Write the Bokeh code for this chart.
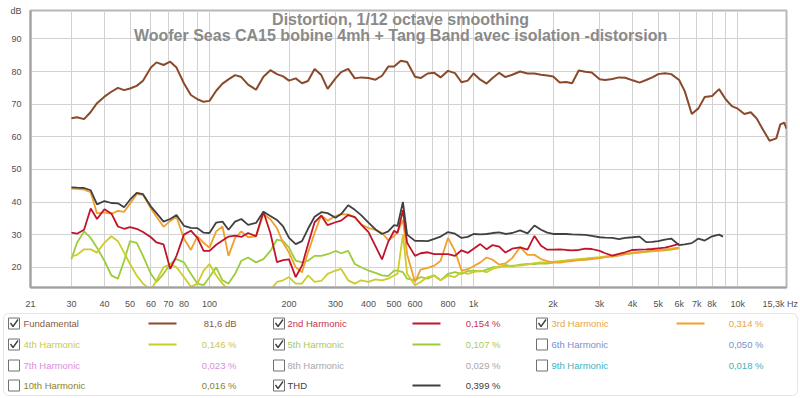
from bokeh.plotting import figure
from bokeh.models import FixedTicker, Label, BoxAnnotation, Range1d
from bokeh.layouts import column, row
from bokeh.embed import file_html
from bokeh.resources import INLINE
from bokeh.core.properties import value

# ---------------- data ----------------
freq_fund = [30, 31.5, 33.5, 35.5, 37.5, 40, 42.5, 45, 47.5, 50,
             53, 56, 60, 63, 67, 71, 75, 80, 85, 90, 95,
             100, 106, 112, 118, 125, 132, 140, 150, 160, 170, 180, 190,
             200, 212, 224, 236, 250, 265, 280, 300, 315, 335, 355, 375,
             400, 425, 450, 475, 500, 530, 560, 600, 630, 670, 710, 750, 800, 850, 900, 950,
             1000, 1060, 1120, 1180, 1250, 1320, 1400, 1500, 1600, 1700, 1800, 1900,
             2000, 2120, 2240, 2360, 2500, 2650, 2800, 3000, 3150, 3350, 3550, 3750,
             4000, 4250, 4500, 4750, 5000, 5300, 5600, 6000, 6300, 6700, 7100, 7500,
             8000, 8500, 9000, 9500,
             10000, 10600, 11200, 11800, 12500, 13200, 14000, 14500, 15000, 15300]
fundamental = [65.7, 66.0, 65.4, 67.6, 70.3, 72.3, 73.8, 75.0, 74.3, 74.8,
               75.6, 77.2, 81.2, 82.8, 82.0, 83.0, 81.2, 76.4, 72.8, 71.5, 70.7,
               71.0, 74.1, 76.3, 77.6, 78.9, 78.3, 76.0, 74.4, 78.4, 80.4, 79.2, 78.5,
               77.2, 77.9, 76.4, 77.1, 80.8, 78.9, 74.7, 77.9, 79.8, 80.8, 77.9, 78.2,
               78.0, 77.5, 78.7, 81.5, 81.5, 83.3, 82.9, 78.4, 78.0, 79.4, 79.6, 78.2, 80.2, 79.5, 76.7, 77.2,
               79.4, 77.5, 76.3, 78.0, 79.6, 78.3, 79.0, 80.0, 79.4, 79.4, 79.0, 78.8,
               78.5, 76.6, 76.8, 76.4, 80.3, 79.9, 79.7, 77.6, 77.4, 77.7, 78.2, 78.1,
               77.3, 76.6, 77.4, 78.2, 79.2, 79.5, 79.2, 77.4, 74.0, 67.0, 68.7, 72.2,
               72.5, 74.6, 71.5, 69.4,
               68.6, 67.0, 67.5, 65.6, 62.0, 58.8, 59.5, 63.8, 64.3, 62.5]

freq_h = [30, 31.5, 33.5, 35.5, 37.5, 40, 42.5, 45, 47.5, 50,
          53, 56, 60, 63, 67, 71, 75, 80, 85, 90, 95,
          100, 106, 112, 118, 125, 132, 140, 150, 160, 170, 180, 190,
          200, 212, 224, 236, 250, 265, 280, 300, 315, 335, 355, 375,
          400, 425, 450, 475, 500,
          515, 540, 560,
          600, 630, 670, 710, 750, 800, 850, 900, 950,
          1000, 1060, 1120, 1180, 1250, 1320, 1400, 1500, 1600, 1700, 1800, 1900,
          2000, 2120, 2240, 2360, 2500, 2650, 2800, 3000, 3150, 3350, 3550, 3750,
          4000, 4250, 4500, 4750, 5000, 5300, 5600, 6000]
freq_thd_ext = [6300, 6700, 7100, 7500, 8000, 8500, 8800]

h2 = [30.6, 30.3, 31.5, 38.0, 34.8, 37.8, 36.5, 32.5, 31.8, 32.3,
      31.8, 30.8, 29.2, 27.6, 27.0, 19.5, 23.5, 30.0, 31.2, 29.0, 25.0,
      25.0, 26.9, 28.2, 29.4, 29.7, 29.3, 30.5, 29.5, 37.0, 30.5, 21.6, 22.2,
      22.4, 17.0, 20.5, 27.0, 33.8, 35.8, 32.9, 33.8, 34.3, 36.0, 35.4, 33.1,
      30.8, 26.5, 22.4, 27.8, 31.2,
      30.5, 37.5, 27.5,
      23.5, 24.3, 24.6, 24.0, 24.0, 24.0, 23.5, 25.2, 24.4,
      25.7, 27.1, 25.5, 26.8, 26.3, 24.5, 25.7, 26.1, 25.4, 29.6, 26.6, 25.4,
      25.4, 25.5, 25.3, 25.2, 25.3, 25.7, 25.6, 25.0, 24.3, 23.6, 24.1, 24.6,
      25.3, 25.4, 25.5, 25.6, 25.8, 26.0, 26.5, 27.2]

h3 = [44.1, 44.0, 43.8, 43.0, 36.5, 36.8, 36.4, 37.3, 37.0, 39.5,
      42.4, 42.2, 38.0, 35.5, 32.4, 34.2, 35.5, 28.8, 25.3, 29.5, 27.5,
      26.0, 31.0, 32.5, 23.5, 29.0, 31.0, 29.2, 29.5, 36.3, 34.7, 32.0, 27.5,
      24.5, 20.0, 18.5, 24.5, 30.5, 36.0, 34.3, 35.7, 36.3, 36.2, 35.3, 33.2,
      32.0, 31.5, 30.5, 28.3, 29.5,
      30.8, 34.5, 24.0,
      15.5, 19.3, 19.8, 20.5, 22.0, 29.0, 25.0, 19.0, 19.4,
      20.3, 21.5, 23.0, 22.3, 20.8, 21.2, 22.8, 26.2, 23.8, 23.8, 22.5, 21.9,
      21.5, 21.4, 21.7, 21.9, 22.2, 22.3, 22.5, 22.8, 23.1, 23.3, 23.6, 24.0,
      24.4, 24.7, 24.9, 25.1, 25.2, 25.4, 25.6, 26.0]

h4 = [23.3, 23.8, 25.5, 25.5, 24.5, 27.5, 29.5, 28.0, 24.5, 21.0,
      17.5, 15.0, 13.0, 16.0, 20.0, 21.0, 20.0, 17.0, 14.0, 15.0, 19.0,
      21.0, 17.5, 15.0, 13.0, 13.0, 13.0, 13.0, 13.0, 13.0, 13.0, 15.5, 16.0,
      17.0, 15.0, 15.0, 17.5, 15.5, 15.8, 18.0, 19.0, 19.5, 16.0, 15.0, 16.0,
      15.5, 16.3, 16.0, 16.5, 17.5,
      18.0, 30.0, 18.0,
      14.5, 15.5, 17.0, 17.5, 16.0, 17.5, 17.0, 18.5, 18.0,
      18.5, 19.0, 18.5, 19.5, 20.2, 20.3, 20.5, 20.5, 20.8, 21.3, 21.5, 21.6,
      21.7, 21.9, 22.1, 22.3, 22.5, 22.7, 22.9, 23.1, 23.3, 23.5, 23.8, 24.1,
      24.4, 24.6, 24.8, 25.0, 25.2, 25.4, 25.6, 26.0]

h5 = [22.5, 27.5, 31.0, 29.0, 26.0, 22.0, 17.5, 16.5, 22.0, 28.0,
      27.5, 23.5, 18.0, 15.5, 18.0, 21.0, 22.5, 21.5, 18.0, 15.0, 14.5,
      17.0, 20.0, 16.0, 15.0, 18.0, 22.0, 23.0, 21.5, 22.5, 25.0, 28.5, 28.0,
      26.0, 22.0, 21.5, 22.0, 23.5, 23.5, 24.0, 25.0, 24.3, 25.0, 21.0, 20.0,
      19.0, 18.3, 17.5, 17.3, 19.0,
      19.0, 18.5, 16.5,
      16.0, 17.0, 16.5, 17.5, 16.0, 18.0, 18.5, 18.0, 18.8,
      19.0, 18.7, 19.3, 20.0, 20.0, 20.7, 20.3, 20.8, 21.0, 21.0, 21.2, 21.1,
      21.4, 21.8, 22.0, 22.2, 22.3, 22.5, 22.7, 22.9, 23.2, 23.5, 23.7, 24.0,
      24.3, 24.5, 24.7, 24.9, 25.0, 25.2, 25.4, 25.8]

thd = [44.5, 44.4, 44.3, 43.6, 39.3, 40.3, 39.7, 39.6, 38.4, 40.7,
       42.8, 42.4, 38.6, 36.6, 34.0, 34.8, 36.0, 32.7, 32.1, 32.0, 30.6,
       30.5, 33.7, 34.0, 31.5, 34.0, 34.8, 33.0, 33.6, 37.0, 35.7, 34.5, 32.5,
       29.0, 27.1, 28.0, 31.8, 35.5, 36.9, 36.6, 35.2, 36.3, 39.0, 37.6, 36.0,
       33.7, 31.6, 30.2, 31.0, 32.9,
       32.7, 40.0, 30.0,
       28.1, 28.1, 28.0, 28.7, 29.4, 30.8, 30.3, 29.0, 29.3,
       30.2, 30.1, 30.2, 30.5, 30.7, 30.2, 30.5, 31.3, 30.4, 32.8, 31.5, 30.6,
       30.2, 30.2, 30.2, 30.1, 30.0, 29.9, 29.6, 29.2, 29.1, 29.0, 28.6, 29.0,
       29.2, 29.4, 27.7, 27.8, 28.0, 28.5, 28.8, 26.8,
       27.0, 27.4, 28.8, 28.2, 29.5, 30.0, 29.4]

x_ticks = [21, 30, 40, 50, 60, 70, 80, 90, 100, 200, 300, 400, 500, 600, 700, 800, 900,
           1000, 2000, 3000, 4000, 5000, 6000, 7000, 8000, 9000, 10000, 15300]
x_tick_labels = ["21", "30", "40", "50", "60", "70", "80", "", "100", "200", "300", "400", "500",
                 "600", "", "800", "", "1k", "2k", "3k", "4k", "5k", "6k", "7k", "8k", "", "10k",
                 "15,3k Hz\u00a0"]
y_ticks = [20, 30, 40, 50, 60, 70, 80, 90, 98.7]
y_tick_labels = ["20", "30", "40", "50", "60", "70", "80", "90", "dB"]

title_1 = "Distortion, 1/12 octave smoothing"
title_2 = "Woofer Seas CA15 bobine 4mh + Tang Band avec isolation -distorsion"

legend_names = ["Fundamental", "2nd Harmonic", "3rd Harmonic",
                "4th Harmonic", "5th Harmonic", "6th Harmonic",
                "7th Harmonic", "8th Harmonic", "9th Harmonic",
                "10th Harmonic", "THD"]
legend_values = ["81,6 dB", "0,154 %", "0,314 %",
                 "0,146 %", "0,107 %", "0,050 %",
                 "0,023 %", "0,029 %", "0,018 %",
                 "0,016 %", "0,399 %"]
legend_checked = [True, True, True, True, True, False, False, False, False, False, True]

# ---------------- style ----------------
C_FUND = "#8a4a2a"
C_H2 = "#c0142c"
C_H3 = "#f0a02c"
C_H4 = "#cccc2c"
C_H5 = "#9ccc3c"
C_THD = "#404040"
line_colors = [C_FUND, C_H2, C_H3, C_H4, C_H5, None, None, None, None, None, C_THD]
text_colors = ["#8c5a3c", "#c8324a", "#e8a648", "#c8c850", "#a8c864", "#7890cc",
               "#dc8cdc", "#a8a8a8", "#40b4bc", "#8c8428", "#404040"]
FONT = "Liberation Sans"

p = figure(width=800, height=311, x_axis_type="log",
           x_range=Range1d(21, 15300), y_range=Range1d(13.8, 98.7),
           output_backend="svg", toolbar_location=None,
           min_border_left=30, min_border_right=14, min_border_top=10, min_border_bottom=16)
p.background_fill_color = "white"
p.outline_line_color = "#b8b8b8"
p.outline_line_width = 2

p.xaxis.ticker = FixedTicker(ticks=x_ticks)
p.xaxis.major_label_overrides = {t: l for t, l in zip(x_ticks, x_tick_labels)}
p.yaxis.ticker = FixedTicker(ticks=y_ticks)
p.yaxis.major_label_overrides = {t: l for t, l in zip(y_ticks, y_tick_labels)}
for ax in (p.xaxis[0], p.yaxis[0]):
    ax.axis_line_color = "#a0a0a0"
    ax.axis_line_width = 2
    ax.major_tick_line_color = None
    ax.minor_tick_line_color = None
    ax.major_label_text_font = FONT
    ax.major_label_text_font_size = "9px"
    ax.major_label_text_color = "#505050"
p.xaxis.major_label_standoff = 5
p.yaxis.major_label_standoff = 3
p.xgrid.ticker = FixedTicker(ticks=x_ticks)
p.ygrid.ticker = FixedTicker(ticks=y_ticks[:-1])
p.grid.grid_line_color = "#d2d2d2"
p.grid.grid_line_width = 1

p.add_layout(Label(x=529, y=96.05, text=title_1, text_align="center",
                   text_baseline="middle", text_font=FONT, text_font_style="bold",
                   text_font_size="16px", text_color="#8a8a8a"))
p.add_layout(Label(x=529, y=91.0, text=title_2, text_align="center",
                   text_baseline="middle", text_font=FONT, text_font_style="bold",
                   text_font_size="16px", text_color="#8a8a8a"))

p.line(freq_fund, fundamental, line_color=C_FUND, line_width=2)
p.line(freq_h, h5, line_color=C_H5, line_width=1.8)
p.line(freq_h, h4, line_color=C_H4, line_width=1.8)
p.line(freq_h, h3, line_color=C_H3, line_width=1.8)
p.line(freq_h, h2, line_color=C_H2, line_width=1.8)
p.line(freq_h + freq_thd_ext, thd, line_color=C_THD, line_width=1.8)

# ---------------- legend panel ----------------
lg = figure(width=800, height=87, x_range=Range1d(0, 800), y_range=Range1d(87, 0),
            output_backend="svg", toolbar_location=None, min_border=0,
            min_border_left=0, min_border_right=0, min_border_top=0, min_border_bottom=0,
            x_axis_location=None, y_axis_location=None)
lg.grid.visible = False
lg.outline_line_color = None
lg.add_layout(BoxAnnotation(left=3, right=797, top=2, bottom=84, fill_color=None,
                            line_color="#a8a8a8", line_width=1, border_radius=5))

col_cb = [8, 273, 536]
col_name = [23, 287, 551]
col_line = [(148, 176), (412, 440), (676, 704)]
col_val = [236, 500, 763]
rows_y = [12, 33, 54, 74]

cb_x, cb_y, nm_x, nm_y, val_x, val_y = [], [], [], [], [], []
chk_xs, chk_ys = [], []
seg = {"x0": [], "x1": [], "y": [], "c": []}
for i, name in enumerate(legend_names):
    r, c = divmod(i, 3)
    y = rows_y[r]
    cb_x.append(col_cb[c] + 5.5)
    cb_y.append(y)
    nm_x.append(col_name[c])
    nm_y.append(y)
    val_x.append(col_val[c])
    val_y.append(y)
    if legend_checked[i]:
        cx = col_cb[c] + 5.5
        chk_xs.append([cx - 3.5, cx - 1, cx + 4])
        chk_ys.append([y - 0.5, y + 3, y - 4])
        seg["x0"].append(col_line[c][0])
        seg["x1"].append(col_line[c][1])
        seg["y"].append(y)
        seg["c"].append(line_colors[i])

lg.rect(cb_x, cb_y, width=11, height=11, width_units="screen", height_units="screen",
        fill_color="white", line_color="#707070", line_width=1)
lg.multi_line(chk_xs, chk_ys, line_color="#404040", line_width=1.4)
lg.segment(seg["x0"], seg["y"], seg["x1"], seg["y"], line_color=seg["c"], line_width=2)
lg.text(nm_x, nm_y, text=legend_names, text_color=text_colors, text_align="left",
        text_baseline="middle", text_font=value(FONT), text_font_size="9.5px")
lg.text(val_x, val_y, text=legend_values, text_color=text_colors, text_align="right",
        text_baseline="middle", text_font=value(FONT), text_font_size="9.5px")

layout = column(p, row(lg))
open("out.html", "w").write(file_html(layout, INLINE))
